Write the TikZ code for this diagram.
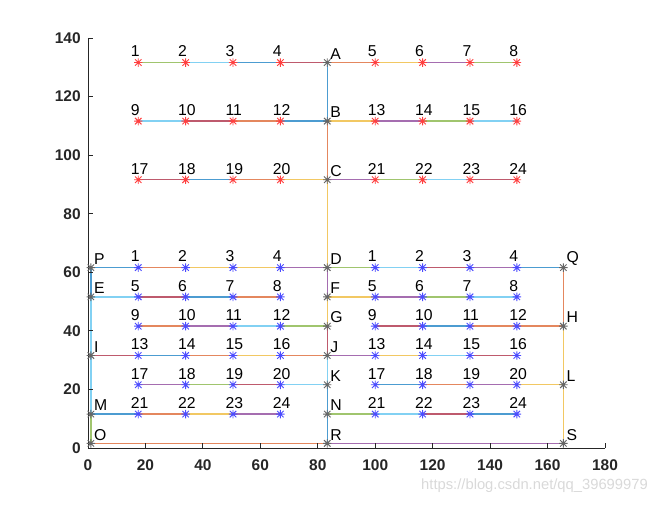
\documentclass[tikz,border=0pt]{standalone}
\usepackage{fontspec}
\setmainfont{Liberation Sans}
\usetikzlibrary{backgrounds}

% MATLAB line colours
\definecolor{mblue}{rgb}{0,0.447,0.741}
\definecolor{morange}{rgb}{0.85,0.325,0.098}
\definecolor{myellow}{rgb}{0.929,0.694,0.125}
\definecolor{mpurple}{rgb}{0.494,0.184,0.556}
\definecolor{mgreen}{rgb}{0.466,0.674,0.188}
\definecolor{mcyan}{rgb}{0.301,0.745,0.933}
\definecolor{mred}{rgb}{0.635,0.078,0.184}

\tikzset{
  mk/.style={inner sep=0pt, outer sep=0pt, minimum size=6pt, path picture={
      \draw[#1, line width=0.65pt]
        (path picture bounding box.south) -- (path picture bounding box.north)
        (path picture bounding box.west) -- (path picture bounding box.east)
        ([shift={(0.7pt,0.7pt)}]path picture bounding box.south west) -- ([shift={(-0.7pt,-0.7pt)}]path picture bounding box.north east)
        ([shift={(0.7pt,-0.7pt)}]path picture bounding box.north west) -- ([shift={(-0.7pt,0.7pt)}]path picture bounding box.south east);}},
  redpt/.style={mk=red!75!white},
  bluept/.style={mk=blue!70!white},
  buspt/.style={mk=black!60},
  numtxt/.style={inner sep=0pt, xshift=-5.3pt, yshift=7.9pt, font=\fontsize{11.2}{13}\selectfont},
  lettxt/.style={inner sep=0pt, xshift=2.3pt, yshift=6.2pt, font=\fontsize{11.2}{13}\selectfont},
  numlab/.style={label={[numtxt]center:\rlap{#1}}},
  letlab/.style={label={[lettxt]center:\rlap{#1}}},
  seg/.style={draw=#1!70!white, line width=1pt},
  ticklab/.style={inner sep=0pt, font=\bfseries\fontsize{11}{13}\selectfont}
}

\begin{document}
\begin{tikzpicture}[x=0.0718cm, y=0.073225cm]
    \useasboundingbox (-30.64,-19.12) rectangle (203.34,152.95);

    % Axes
    \draw[black!85, line width=0.6pt] (0,140) -- (0,0) -- (180,0);
    \foreach \t in {0,20,...,180}
        \draw[black!85, line width=0.6pt] (\t,0) -- ++(0,3.5pt)
            node[ticklab, anchor=north, yshift=-11.2pt] {\t};
    \foreach \t in {0,20,...,140}
        \draw[black!85, line width=0.6pt] (0,\t) -- ++(3.5pt,0)
            node[ticklab, anchor=east, xshift=-8.4pt] {\t};

    % Bus nodes
    \node[buspt, letlab=A] (A) at (83.3,131.6) {};
    \node[buspt, letlab=B] (B) at (83.3,111.6) {};
    \node[buspt, letlab=C] (C) at (83.3,91.6) {};
    \node[buspt, letlab=D] (D) at (83.3,61.6) {};
    \node[buspt, letlab=F] (F) at (83.3,51.6) {};
    \node[buspt, letlab=G] (G) at (83.3,41.6) {};
    \node[buspt, letlab=J] (J) at (83.3,31.6) {};
    \node[buspt, letlab=K] (K) at (83.3,21.6) {};
    \node[buspt, letlab=N] (N) at (83.3,11.6) {};
    \node[buspt, letlab=R] (R) at (83.3,1.6) {};
    \node[buspt, letlab=P] (P) at (1,61.6) {};
    \node[buspt, letlab=E] (E) at (1,51.6) {};
    \node[buspt, letlab=I] (I) at (1,31.6) {};
    \node[buspt, letlab=M] (M) at (1,11.6) {};
    \node[buspt, letlab=O] (O) at (1,1.6) {};
    \node[buspt, letlab=Q] (Q) at (165.5,61.6) {};
    \node[buspt, letlab=H] (H) at (165.5,41.6) {};
    \node[buspt, letlab=L] (L) at (165.5,21.6) {};
    \node[buspt, letlab=S] (S) at (165.5,1.6) {};

    % Upper points
    \foreach \row/\yy in {0/131.6,1/111.6,2/91.6}
        \foreach \col/\xx in {1/17.5,2/34,3/50.5,4/67,5/100,6/116.5,7/133,8/149.3} {
            \pgfmathtruncatemacro\k{8*\row+\col}
            \node[redpt, numlab=\k] (a\k) at (\xx,\yy) {};
        }

    % Lower points
    \foreach \row/\yy in {0/61.6,1/51.6,2/41.6,3/31.6,4/21.6,5/11.6}
        \foreach \col/\xl/\xr in {1/17.5/100,2/34/116.5,3/50.5/133,4/67/149.3} {
            \pgfmathtruncatemacro\k{4*\row+\col}
            \node[bluept, numlab=\k] (l\k) at (\xl,\yy) {};
            \node[bluept, numlab=\k] (r\k) at (\xr,\yy) {};
        }

    % Edges
    \begin{scope}[on background layer]
        \foreach \u/\v/\c in {
            a1/a2/mgreen, a2/a3/mcyan, a3/a4/mblue, a4/A/mred, A/a5/morange, a5/a6/myellow, a6/a7/mpurple, a7/a8/mgreen,
            a9/a10/mcyan, a10/a11/mred, a11/a12/morange, a12/B/mblue, B/a13/myellow, a13/a14/mpurple, a14/a15/mgreen, a15/a16/mcyan,
            a17/a18/mred, a18/a19/mblue, a19/a20/morange, a20/C/myellow, C/a21/mpurple, a21/a22/mgreen, a22/a23/mcyan, a23/a24/mred,
            A/B/mblue, B/C/morange, C/D/myellow,
            P/l1/mblue, l1/l2/morange, l2/l3/myellow, l3/l4/myellow, l4/D/mpurple,
            D/r1/mgreen, r1/r2/mcyan, r2/r3/mred, r3/r4/mpurple, r4/Q/mblue,
            E/l5/mcyan, l5/l6/mred, l6/l7/mblue, l7/l8/morange,
            F/r5/myellow, r5/r6/mpurple, r6/r7/mgreen, r7/r8/mcyan,
            l9/l10/morange, l10/l11/mpurple, l11/l12/mcyan, l12/G/mgreen,
            r9/r10/mred, r10/r11/mblue, r11/r12/morange, r12/H/morange,
            I/l13/mred, l13/l14/mblue, l14/l15/morange, l15/l16/myellow, l16/J/morange,
            J/r13/mpurple, r13/r14/myellow, r14/r15/mcyan, r15/r16/mred,
            l17/l18/mpurple, l18/l19/mgreen, l19/l20/mred, l20/K/mcyan,
            r17/r18/mblue, r18/r19/morange, r19/r20/mpurple, r20/L/myellow,
            M/l21/mblue, l21/l22/morange, l22/l23/myellow, l23/l24/mpurple,
            N/r21/mgreen, r21/r22/mcyan, r22/r23/mred, r23/r24/mblue,
            O/R/morange, R/S/mpurple,
            P/E/mblue, E/I/mcyan, I/M/mcyan, M/O/mgreen,
            D/F/mpurple, F/G/myellow, G/J/mred, J/K/mcyan, K/N/mblue, N/R/mblue,
            Q/H/morange, H/L/myellow, L/S/myellow}
            \draw[seg=\c] (\u.center) -- (\v.center);
    \end{scope}

    % Watermark
    \node[anchor=east, inner sep=0pt, text=black!15, font=\fontsize{10.5}{12}\selectfont] (wm) at (195,-13) {https://blog.csdn.net/qq\_39699979};
\end{tikzpicture}
\end{document}
